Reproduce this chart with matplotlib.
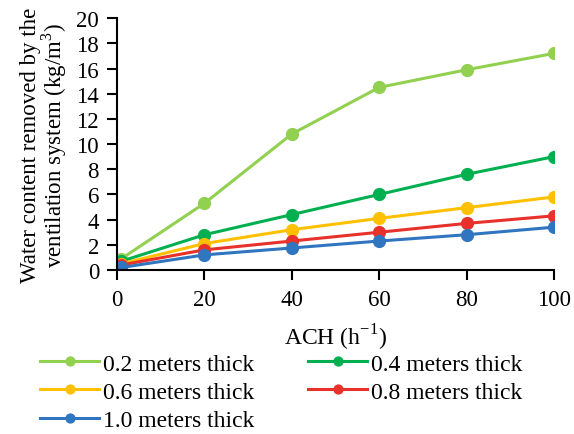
import numpy as np
import matplotlib.pyplot as plt

plt.rcParams['font.family'] = ['Liberation Serif', 'DejaVu Serif']
plt.rcParams['mathtext.fontset'] = 'custom'
plt.rcParams['mathtext.rm'] = 'Liberation Serif'

ach = [1, 20, 40, 60, 80, 100]
labels = ['0.2 meters thick', '0.4 meters thick', '0.6 meters thick',
          '0.8 meters thick', '1.0 meters thick']
t02 = [0.9, 5.3, 10.8, 14.5, 15.9, 17.2]
t04 = [0.7, 2.8, 4.4, 6.0, 7.6, 9.0]
t06 = [0.5, 2.1, 3.2, 4.1, 4.95, 5.8]
t08 = [0.4, 1.6, 2.3, 3.0, 3.7, 4.3]
t10 = [0.2, 1.2, 1.75, 2.3, 2.8, 3.4]
series = [t02, t04, t06, t08, t10]
colors = ['#92D050', '#00B050', '#FFC000', '#E8312A', '#2F75C0']

fig = plt.figure(figsize=(5.74, 4.35), dpi=100)
ax = fig.add_axes([0.204, 0.377, 0.761, 0.579])

lines = []
for ys, c, lab in zip(series, colors, labels):
    ln, = ax.plot(ach, ys, color=c, lw=2.2, marker='o', ms=8.5, label=lab)
    lines.append(ln)

ax.set_xlim(0, 100)
ax.set_ylim(0, 20)
ax.set_xticks(np.arange(0, 101, 20))
ax.set_yticks(np.arange(0, 21, 2))
ax.spines['top'].set_visible(False)
ax.spines['right'].set_visible(False)
ax.spines['left'].set_linewidth(1.5)
ax.spines['bottom'].set_linewidth(1.5)
ax.tick_params(labelsize=16.5, width=1.5, length=7, direction='out')
ax.tick_params(axis='y', pad=6)
ax.tick_params(axis='x', pad=7)

ax.set_xlabel('ACH (h$^{-1}$)', fontsize=17, labelpad=8)
ax.set_ylabel('Water content removed by the\nventilation system (kg/m$^3$)',
              fontsize=16.5, linespacing=0.95, labelpad=5)

# row-major order like the original: matplotlib fills columns first
order = [0, 2, 4, 1, 3]
fig.legend([lines[i] for i in order], [labels[i] for i in order],
           loc='upper left', bbox_to_anchor=(0.07, 1 - 354 / 435),
           ncol=2, frameon=False, fontsize=17, handlelength=2.5,
           columnspacing=2.3, labelspacing=0.28, handletextpad=0.15,
           markerscale=0.75, borderpad=0, borderaxespad=0)

fig.savefig('out.png', dpi=100)
